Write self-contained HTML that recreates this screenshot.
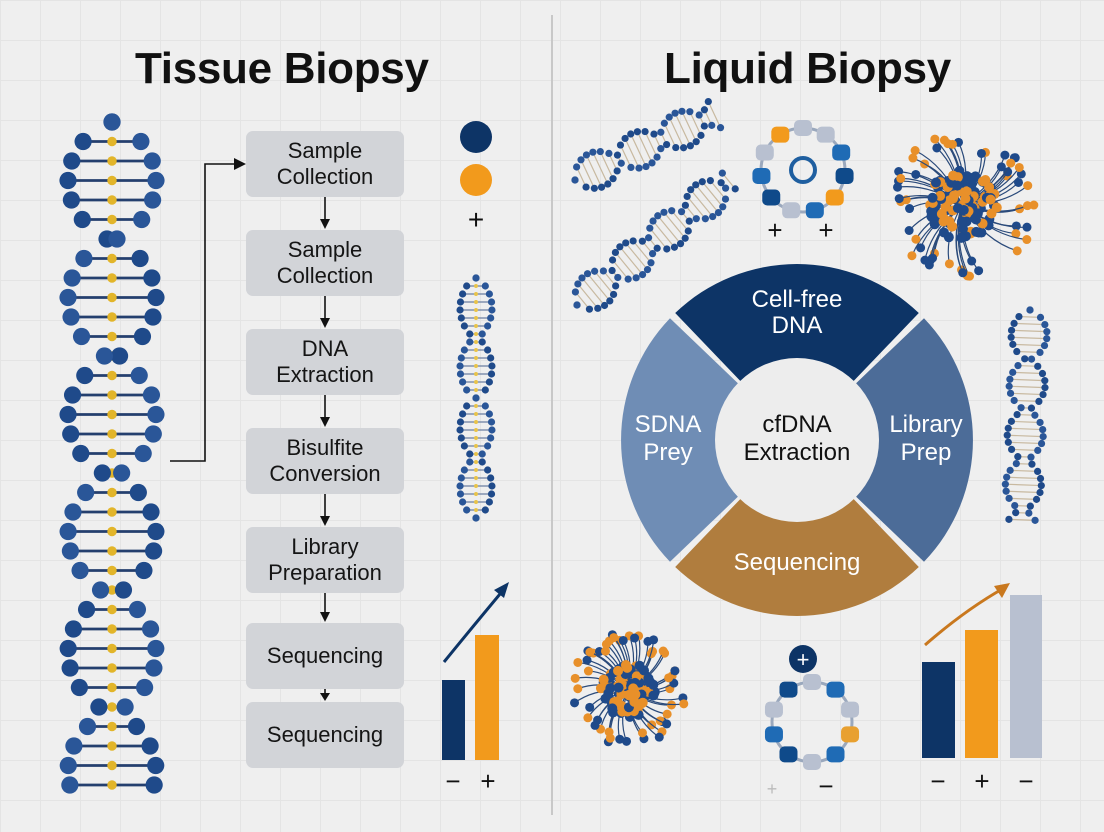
<!DOCTYPE html>
<html><head><meta charset="utf-8">
<style>
html,body{margin:0;padding:0;}
body{width:1104px;height:832px;overflow:hidden;background:#efefef;font-family:"Liberation Sans",sans-serif;position:relative;
background-image:linear-gradient(#e4e4e4 1px,transparent 1px),linear-gradient(90deg,#e4e4e4 1px,transparent 1px);background-size:40px 40px;}
.t{position:absolute;font-size:44px;color:#111;font-weight:bold;letter-spacing:-0.3px}
.box{position:absolute;left:246px;width:158px;height:66px;background:#d2d4d8;border-radius:7px;display:flex;align-items:center;justify-content:center;text-align:center;font-size:22px;line-height:26px;color:#151515}
svg{position:absolute;left:0;top:0}
</style></head><body>
<div class="t" style="left:135px;top:44px">Tissue Biopsy</div>
<div class="t" style="left:664px;top:44px">Liquid Biopsy</div>
<div class="box" style="top:131px">Sample<br>Collection</div>
<div class="box" style="top:230px">Sample<br>Collection</div>
<div class="box" style="top:329px">DNA<br>Extraction</div>
<div class="box" style="top:428px">Bisulfite<br>Conversion</div>
<div class="box" style="top:527px">Library<br>Preparation</div>
<div class="box" style="top:623px">Sequencing</div>
<div class="box" style="top:702px">Sequencing</div>
<svg id="s" width="1104" height="832" xmlns="http://www.w3.org/2000/svg">
<line x1="552" y1="15" x2="552" y2="815" stroke="#c8c8c8" stroke-width="2"/>
<g stroke="#111" stroke-width="1.6" fill="none">
<polyline points="170,461 205,461 205,164 236,164"/>
<line x1="325" y1="197" x2="325" y2="222"/><line x1="325" y1="296" x2="325" y2="321"/>
<line x1="325" y1="395" x2="325" y2="420"/><line x1="325" y1="494" x2="325" y2="519"/>
<line x1="325" y1="593" x2="325" y2="615"/><line x1="325" y1="689" x2="325" y2="696"/>
</g>
<g fill="#111">
<polygon points="246,164 234,158 234,170"/>
<polygon points="325,229 320,219 330,219"/><polygon points="325,328 320,318 330,318"/>
<polygon points="325,427 320,417 330,417"/><polygon points="325,526 320,516 330,516"/>
<polygon points="325,622 320,612 330,612"/><polygon points="325,701 320,693 330,693"/>
</g>
<circle cx="476" cy="137" r="16" fill="#0d3466"/>
<circle cx="476" cy="180" r="16" fill="#f29a1c"/>
<text x="476" y="229" font-size="28" text-anchor="middle" fill="#111" font-family="Liberation Sans">+</text>
<rect x="442" y="680" width="23" height="80" fill="#0d3466"/>
<rect x="475" y="635" width="24" height="125" fill="#f29a1c"/>
<path d="M444,662 Q470,630 505,588" stroke="#0d3466" stroke-width="3" fill="none"/>
<polygon points="509,582 494,590 504,598" fill="#0d3466"/>
<text x="453" y="790" font-size="26" text-anchor="middle" fill="#111" font-family="Liberation Sans">−</text>
<text x="488" y="790" font-size="26" text-anchor="middle" fill="#111" font-family="Liberation Sans">+</text>
<g id="ring"></g>
<circle cx="797" cy="440" r="82" fill="#ededed"/>
<g font-family="Liberation Sans" font-size="24" text-anchor="middle">
<text x="797" y="307" fill="#fff">Cell-free</text><text x="797" y="333" fill="#fff">DNA</text>
<text x="668" y="432" fill="#fff">SDNA</text><text x="668" y="460" fill="#fff">Prey</text>
<text x="926" y="432" fill="#fff">Library</text><text x="926" y="460" fill="#fff">Prep</text>
<text x="797" y="432" fill="#111">cfDNA</text><text x="797" y="460" fill="#111">Extraction</text>
<text x="797" y="570" fill="#fff">Sequencing</text>
</g>
<rect x="922" y="662" width="33" height="96" fill="#0d3466"/>
<rect x="965" y="630" width="33" height="128" fill="#f29a1c"/>
<rect x="1010" y="595" width="32" height="163" fill="#b8c0d0"/>
<path d="M925,645 Q965,610 1004,588" stroke="#c9781e" stroke-width="3" fill="none"/>
<polygon points="1010,583 994,586 1002,598" fill="#c9781e"/>
<g font-family="Liberation Sans" font-size="26" text-anchor="middle" fill="#111">
<text x="938" y="790">−</text><text x="982" y="790">+</text><text x="1026" y="790">−</text>
<text x="775" y="239">+</text><text x="826" y="239">+</text>
<text x="772" y="795" fill="#bbb" font-size="18">+</text><text x="826" y="795">−</text>
</g>
<circle cx="803" cy="659" r="14" fill="#0d3466"/>
<text x="803" y="667" font-size="22" text-anchor="middle" fill="#fff" font-family="Liberation Sans">+</text>
<g id="dyn"></g>
</svg>
<script>
var NS="http://www.w3.org/2000/svg",dyn=document.getElementById('dyn');
function el(n,a,p){var e=document.createElementNS(NS,n);for(var k in a)e.setAttribute(k,a[k]);(p||dyn).appendChild(e);return e;}
(function(){var cx=797,cy=440,R=176,r=80,g=document.getElementById('ring');
var segs=[[225,315,'#0d3466'],[315,405,'#4c6c98'],[45,135,'#b07d3e'],[135,225,'#6f8db5']];
segs.forEach(function(s){var a1=(s[0]+1.2)*Math.PI/180,a2=(s[1]-1.2)*Math.PI/180;
function p(rad,a){return (cx+rad*Math.cos(a)).toFixed(1)+','+(cy+rad*Math.sin(a)).toFixed(1);}
el('path',{d:'M'+p(R,a1)+' A'+R+','+R+' 0 0 1 '+p(R,a2)+' L'+p(r,a2)+' A'+r+','+r+' 0 0 0 '+p(r,a1)+'Z',fill:s[2]},g);});})();
function helix(x1,y1,x2,y2,amp,period,step,br,rung,mid){
var dx=x2-x1,dy=y2-y1,L=Math.hypot(dx,dy),ux=dx/L,uy=dy/L,nx=-uy,ny=ux;
for(var s=0;s<=L;s+=step){var ph=Math.sin(2*Math.PI*s/period);var sh=Math.sign(ph)*Math.pow(Math.abs(ph),0.6);
var cx=x1+ux*s,cy=y1+uy*s;var ax=cx+nx*amp*sh,ay=cy+ny*amp*sh,bx=cx-nx*amp*sh,by=cy-ny*amp*sh;
el('line',{x1:ax,y1:ay,x2:bx,y2:by,stroke:rung,'stroke-width':Math.max(1,br/3)});
if(mid)el('circle',{cx:cx,cy:cy,r:br*0.55,fill:mid});
el('circle',{cx:ax,cy:ay,r:br,fill:'#1f4a8a'});el('circle',{cx:bx,cy:by,r:br,fill:'#2a5698'});}}
helix(112,122,112,800,44,236,19.5,8.6,'#243f6e','#e2b52a');
helix(476,278,476,522,16,120,8,3.6,'#6a7da0','#e8c34a');
helix(575,180,720,112,18,95,7,3.6,'#c8b9a0',null);
helix(577,305,730,180,18,95,7,3.6,'#c8b9a0',null);
helix(1030,310,1022,520,18,100,7,3.6,'#c8b9a0',null);
function plasmid(cx,cy,R,cols,inner){el('circle',{cx:cx,cy:cy,r:R,fill:'none',stroke:'#9aa8bd','stroke-width':3});
cols.forEach(function(c,i){var a=i*2*Math.PI/cols.length-Math.PI/2;el('rect',{x:cx+R*Math.cos(a)-9,y:cy+R*Math.sin(a)-8,width:18,height:16,rx:5,fill:c});});
if(inner)el('circle',{cx:cx,cy:cy,r:12,fill:'none',stroke:'#1f5fa0','stroke-width':4});}
var pc=['#b8c0d0','#b8c0d0','#1f6bb5','#0f4a8a','#f29a1c','#1f6bb5','#b8c0d0','#0f4a8a','#1f6bb5','#b8c0d0','#f29a1c'];
plasmid(803,170,42,pc,true);
plasmid(812,722,40,['#b8c0d0','#1f6bb5','#b8c0d0','#e8a030','#1f6bb5','#b8c0d0','#0f4a8a','#1f6bb5','#b8c0d0','#0f4a8a'],false);
var seed=7;function rnd(){seed=(seed*16807)%2147483647;return seed/2147483647;}
function cluster(cx,cy,R){for(var i=0;i<55;i++){var a=rnd()*6.283,d=R*(0.75+rnd()*0.3);
var ex=cx+d*Math.cos(a),ey=cy+d*Math.sin(a);el('path',{d:'M'+cx+','+cy+' Q'+(cx+d*0.6*Math.cos(a+0.3))+','+(cy+d*0.6*Math.sin(a+0.3))+' '+ex+','+ey,stroke:'#2a4a7a','stroke-width':1.2,fill:'none'});
el('circle',{cx:ex,cy:ey,r:4.5,fill:rnd()<0.5?'#e8902a':'#1f4a8a'});}
for(var j=0;j<110;j++){var a2=rnd()*6.283,d2=R*0.5*Math.sqrt(rnd());el('circle',{cx:cx+d2*Math.cos(a2),cy:cy+d2*Math.sin(a2),r:5,fill:rnd()<0.45?'#e8902a':'#1f4a8a'});}}
cluster(962,205,70);
cluster(628,690,55);
</script>
</body></html>
